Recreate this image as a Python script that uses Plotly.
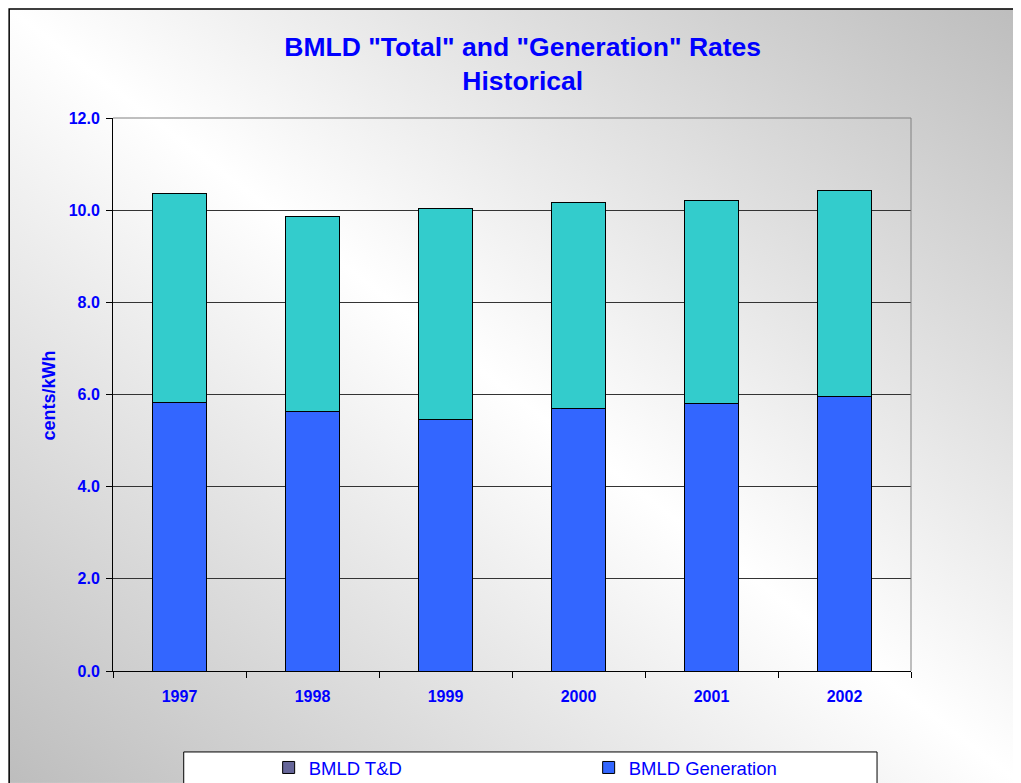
import base64
import plotly.graph_objects as go

years = ["1997", "1998", "1999", "2000", "2001", "2002"]
generation = [5.82, 5.63, 5.45, 5.69, 5.80, 5.96]
td = [4.55, 4.23, 4.58, 4.48, 4.41, 4.46]
y_ticks = [0, 2, 4, 6, 8, 10, 12]

FONT = "Liberation Sans, Arial, sans-serif"
BLUE = "#0000FF"

# page body has an 8px margin: figure origin is at screen (8, 8)
OFF = 8
W, H = 1021 - OFF, 783 - OFF
PL, PT, PR, PB = 112.7, 117.7, 911.5, 671.0   # plot area, screen px
L, T = PL - OFF, PT - OFF
R, B = W - (PR - OFF), H - (PB - OFF)
PW, PH = W - L - R, H - T - B


def px_x(sx):
    return (sx - PL) / PW


def px_y(sy):
    return (PB - sy) / PH


svg = (
    "<svg xmlns='http://www.w3.org/2000/svg' width='1013' height='775' viewBox='0 0 1013 775' preserveAspectRatio='none'>"
    "<defs><linearGradient id='g' x1='1' y1='0' x2='0' y2='1'>"
    "<stop offset='0' stop-color='#bdbdbd'/>"
    "<stop offset='0.5' stop-color='#ffffff'/>"
    "<stop offset='1' stop-color='#bdbdbd'/>"
    "</linearGradient></defs>"
    "<rect x='0' y='0' width='1013' height='775' fill='url(#g)'/></svg>"
)
src = "data:image/svg+xml;base64," + base64.b64encode(svg.encode()).decode()

fig = go.Figure()
fig.add_trace(go.Bar(
    x=years, y=generation, name="BMLD Generation",
    marker=dict(color="#3366FF", line=dict(color="#000000", width=1)),
    legendrank=2,
))
fig.add_trace(go.Bar(
    x=years, y=td, name="BMLD T&D", showlegend=False,
    marker=dict(color="#33CCCC", line=dict(color="#000000", width=1)),
))
# legend key for T&D (as in the original, the key swatch is slate)
fig.add_trace(go.Bar(
    x=[None], y=[None], name="BMLD T&D",
    marker=dict(color="#666699", line=dict(color="#000000", width=1)),
    legendrank=1,
))

fig.update_layout(
    width=W, height=H,
    margin=dict(l=L, r=R, t=T, b=B, autoexpand=False),
    barmode="stack", bargap=0.59,
    paper_bgcolor="#ffffff", plot_bgcolor="#ffffff",
    font=dict(family=FONT, color=BLUE),
    title=dict(
        text='<b>BMLD "Total" and "Generation" Rates<br>Historical</b>',
        font=dict(family=FONT, size=26.5, color=BLUE),
        x=(522.7 - OFF) / W, xanchor="center", xref="container",
        y=1 - (56 - OFF) / H, yanchor="top", yref="container",
    ),
    xaxis=dict(
        showline=True, linecolor="#000000", linewidth=1,
        ticks="outside", ticklen=6, tickcolor="#000000", tickson="boundaries",
        tickfont=dict(family=FONT, size=16, color=BLUE, weight="bold"),
        ticklabelstandoff=11,
        showgrid=False, fixedrange=True,
    ),
    yaxis=dict(
        range=[0, 12], tickvals=y_ticks, tickformat=".1f",
        showline=True, linecolor="#000000", linewidth=1,
        ticks="outside", ticklen=6, tickcolor="#000000",
        tickfont=dict(family=FONT, size=16, color=BLUE, weight="bold"),
        ticklabelstandoff=3,
        showgrid=True, gridcolor="#333333", gridwidth=1,
        zeroline=False, fixedrange=True,
    ),
    legend=dict(
        orientation="h", traceorder="normal",
        x=px_x(268.5), xanchor="left",
        y=px_y(749), yanchor="top",
        bgcolor="rgba(0,0,0,0)", borderwidth=0,
        font=dict(family=FONT, size=18.5, color=BLUE),
        entrywidth=275,
    ),
    images=[dict(
        source=src, xref="paper", yref="paper",
        x=px_x(OFF), y=px_y(OFF), sizex=W / PW, sizey=H / PH,
        xanchor="left", yanchor="top", sizing="stretch", layer="below",
    )],
    shapes=[
        # outer chart border
        dict(type="rect", xref="paper", yref="paper", layer="below",
             x0=px_x(OFF + 0.75), x1=px_x(1040), y0=px_y(800), y1=px_y(OFF + 0.75),
             line=dict(color="#000000", width=1.5), fillcolor="rgba(0,0,0,0)"),
        # legend box
        dict(type="rect", xref="paper", yref="paper", layer="below",
             x0=px_x(183.5), x1=px_x(877.5), y0=px_y(800), y1=px_y(752),
             line=dict(color="#000000", width=1), fillcolor="#ffffff"),
        # plot area top and right edges (grey)
        dict(type="line", xref="paper", yref="paper", layer="above",
             x0=0, x1=1, y0=1, y1=1, line=dict(color="#808080", width=1)),
        dict(type="line", xref="paper", yref="paper", layer="above",
             x0=1, x1=1, y0=0, y1=1, line=dict(color="#808080", width=1)),
    ],
    annotations=[dict(
        text="<b>cents/kWh</b>", textangle=-90,
        xref="paper", yref="paper", x=px_x(48.5), y=px_y(395.5),
        xanchor="center", yanchor="middle", showarrow=False,
        font=dict(family=FONT, size=18, color=BLUE),
    )],
)

fig.write_html("out.html")
